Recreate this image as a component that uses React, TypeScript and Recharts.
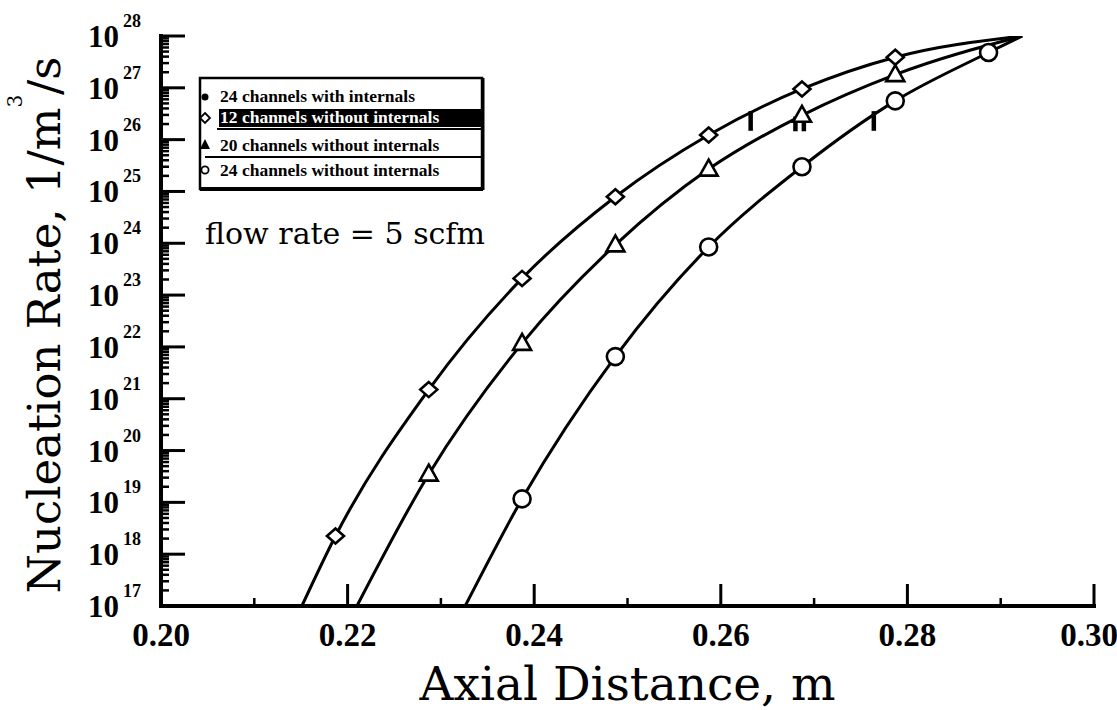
import React from 'react';
import { LineChart, Line, XAxis, YAxis, ReferenceLine } from 'recharts';

const W = 1117;
const H = 710;

// ---- axes ----
const xTicks = [0.2, 0.21, 0.22, 0.23, 0.24, 0.25, 0.26, 0.27, 0.28, 0.29, 0.3];
const xMajorLabels = ['0.20', '0.22', '0.24', '0.26', '0.28', '0.30'];
const yDecades = [17, 18, 19, 20, 21, 22, 23, 24, 25, 26, 27, 28];
const yMinorMultipliers = [2, 3, 4, 5, 6, 7, 8, 9];
const yTicks: number[] = [];
yDecades.forEach((d, i) => {
  yTicks.push(Number(`1e${d}`));
  if (i < yDecades.length - 1) yMinorMultipliers.forEach((m) => yTicks.push(Number(`${m}e${d}`)));
});

// ---- series ----
const diamondX = [0.2187, 0.2287, 0.2387, 0.2487, 0.2587, 0.2687, 0.2787];
const diamondY = [2.24e18, 1.5e21, 2.1e23, 7.9e24, 1.23e26, 9.5e26, 3.9e27];
const triangleX = [0.2287, 0.2387, 0.2487, 0.2587, 0.2687, 0.2787];
const triangleY = [3.5e19, 1.17e22, 9.3e23, 2.7e25, 2.95e26, 1.8e27];
const circleX = [0.2387, 0.2487, 0.2587, 0.2687, 0.2787, 0.2887];
const circleY = [1.17e19, 6.5e21, 8.5e23, 3.0e25, 5.6e26, 4.8e27];

// where each drawn curve meets the bottom frame (at 1e17) and the top frame (at 1e28)
const curveStartX = { diamond: 0.2151, triangle: 0.221, circle: 0.2326 };
const curveEndX = 0.2923;
const yMin = 1e17;
const yMax = 1e28;

// small vertical bars drawn under the curves
const barX = [0.2632, 0.268, 0.2689, 0.2764];
const barLow = [1.48e26, 1.45e26, 1.45e26, 1.48e26];
const barHigh = [3.55e26, 2.8e26, 2.8e26, 3.55e26];

// legend
const legendLabels = [
  '24 channels with internals',
  '12 channels without internals',
  '20 channels without internals',
  '24 channels without internals',
];

const build = (xs: number[], ys: number[], start: number) => [
  { x: start, y: yMin, m: false },
  ...xs.map((x, i) => ({ x, y: ys[i], m: true })),
  { x: curveEndX, y: yMax, m: false },
];

const diamondData = build(diamondX, diamondY, curveStartX.diamond);
const triangleData = build(triangleX, triangleY, curveStartX.triangle);
const circleData = build(circleX, circleY, curveStartX.circle);

const SERIF = "'Liberation Serif', 'Times New Roman', serif";
const WIDE_SERIF = "'DejaVu Serif', serif";

const diamondDot = (p: any) => {
  const { cx, cy, index, payload } = p;
  if (!payload || !payload.m || cx == null) return <g key={`dd${index}`} />;
  return (
    <path
      key={`dd${index}`}
      d={`M${cx},${cy - 7.5} L${cx + 8.5},${cy} L${cx},${cy + 7.5} L${cx - 8.5},${cy} Z`}
      fill="#fff"
      stroke="#000"
      strokeWidth={2.6}
    />
  );
};
const triangleDot = (p: any) => {
  const { cx, cy, index, payload } = p;
  if (!payload || !payload.m || cx == null) return <g key={`td${index}`} />;
  return (
    <path
      key={`td${index}`}
      d={`M${cx},${cy - 9.5} L${cx + 9},${cy + 6.5} L${cx - 9},${cy + 6.5} Z`}
      fill="#fff"
      stroke="#000"
      strokeWidth={2.6}
    />
  );
};
const circleDot = (p: any) => {
  const { cx, cy, index, payload } = p;
  if (!payload || !payload.m || cx == null) return <g key={`cd${index}`} />;
  return <circle key={`cd${index}`} cx={cx} cy={cy} r={8.5} fill="#fff" stroke="#000" strokeWidth={2.6} />;
};

const isMajorY = (v: number) => {
  const e = Math.log10(v);
  return Math.abs(e - Math.round(e)) < 1e-6;
};

const LeftTick = (p: any) => {
  const { x, y, payload } = p;
  const v = payload.value;
  const major = isMajorY(v);
  const e = Math.round(Math.log10(v));
  return (
    <g>
      <line x1={x} x2={x + (major ? 24 : 8)} y1={y} y2={y} stroke="#000" strokeWidth={major ? 3 : 2.5} />
      {major && (
        <text x={x - 42} y={y + 11} textAnchor="end" fontFamily={SERIF} fontWeight="bold" fontSize={31} fill="#000">
          10
        </text>
      )}
      {major && (
        <text x={x - 38} y={y - 9} textAnchor="start" fontFamily={SERIF} fontWeight="bold" fontSize={18} fill="#000">
          {e}
        </text>
      )}
    </g>
  );
};

const RightTick = (p: any) => {
  const { x, y, payload } = p;
  const major = isMajorY(payload.value);
  return <line x1={x} x2={x - (major ? 24 : 8)} y1={y} y2={y} stroke="#000" strokeWidth={major ? 3 : 2.5} />;
};

const BottomTick = (p: any) => {
  const { x, y, payload } = p;
  const i = Math.round(payload.value * 100);
  const major = i % 2 === 0;
  const k = (i - 20) / 2;
  const label = major ? xMajorLabels[k] : '';
  const last = major && k === xMajorLabels.length - 1;
  return (
    <g>
      <line x1={x} x2={x} y1={y} y2={y - (major ? 22 : 8)} stroke="#000" strokeWidth={major ? 3 : 2.5} />
      {major && (
        <text
          x={last ? x - 5 : x}
          y={y + 40}
          textAnchor="middle"
          fontFamily={SERIF}
          fontWeight="bold"
          fontSize={33}
          fill="#000"
        >
          {label}
        </text>
      )}
    </g>
  );
};

const TopTick = (p: any) => {
  const { x, y, payload } = p;
  const i = Math.round(payload.value * 100);
  const major = i % 2 === 0;
  return <line x1={x} x2={x} y1={y} y2={y + (major ? 24 : 8)} stroke="#000" strokeWidth={major ? 3 : 2.5} />;
};

const frameLine = { stroke: '#000', strokeWidth: 4, strokeLinecap: 'square' as const };

export default function App() {
  return (
    <div style={{ position: 'absolute', left: 0, top: 0, width: W, height: H, background: '#fff' }}>
      <LineChart width={W} height={H} margin={{ top: 36, right: 23, bottom: 4, left: 61 }}>
        <XAxis
          xAxisId="b"
          dataKey="x"
          type="number"
          domain={[0.2, 0.3]}
          allowDataOverflow
          ticks={xTicks}
          interval={0}
          tickSize={0}
          tickMargin={0}
          tickLine={false}
          tick={<BottomTick />}
          axisLine={frameLine}
          height={100}
          label={{
            value: 'Axial Distance, m',
            position: 'insideBottom',
            offset: 6,
            fontFamily: WIDE_SERIF,
            fontSize: 47,
            fill: '#000',
          }}
        />
        <XAxis
          xAxisId="t"
          orientation="top"
          type="number"
          domain={[0.2, 0.3]}
          allowDataOverflow
          ticks={xTicks}
          interval={0}
          tickSize={0}
          tickMargin={0}
          tickLine={false}
          tick={<TopTick />}
          axisLine={frameLine}
          height={0}
        />
        <YAxis
          yAxisId="l"
          type="number"
          scale="log"
          domain={[yMin, yMax]}
          allowDataOverflow
          ticks={yTicks}
          interval={0}
          tickSize={0}
          tickMargin={0}
          tickLine={false}
          tick={<LeftTick />}
          axisLine={frameLine}
          width={100}
        />
        <YAxis
          yAxisId="r"
          orientation="right"
          type="number"
          scale="log"
          domain={[yMin, yMax]}
          allowDataOverflow
          ticks={yTicks}
          interval={0}
          tickSize={0}
          tickMargin={0}
          tickLine={false}
          tick={<RightTick />}
          axisLine={frameLine}
          width={0}
        />
        {barX.map((bx, i) => (
          <ReferenceLine
            key={`bar${i}`}
            xAxisId="b"
            yAxisId="l"
            segment={[
              { x: bx, y: barLow[i] },
              { x: bx, y: barHigh[i] },
            ]}
            stroke="#000"
            strokeWidth={4.5}
          />
        ))}
        <Line
          xAxisId="b"
          yAxisId="l"
          data={diamondData}
          dataKey="y"
          type="monotone"
          stroke="#000"
          strokeWidth={3}
          dot={diamondDot}
          activeDot={false}
          isAnimationActive={false}
        />
        <Line
          xAxisId="b"
          yAxisId="l"
          data={triangleData}
          dataKey="y"
          type="monotone"
          stroke="#000"
          strokeWidth={3}
          dot={triangleDot}
          activeDot={false}
          isAnimationActive={false}
        />
        <Line
          xAxisId="b"
          yAxisId="l"
          data={circleData}
          dataKey="y"
          type="monotone"
          stroke="#000"
          strokeWidth={3}
          dot={circleDot}
          activeDot={false}
          isAnimationActive={false}
        />
      </LineChart>
      <svg width={W} height={H} style={{ position: 'absolute', left: 0, top: 0, pointerEvents: 'none' }}>
        {/* y axis title */}
        <text
          transform="translate(60,325) rotate(-90)"
          textAnchor="middle"
          fontFamily={WIDE_SERIF}
          fontSize={45}
          fill="#000"
        >
          Nucleation Rate, 1/m
          <tspan fontSize={20} dy={-38}>3</tspan>
          <tspan dy={38}>/s</tspan>
        </text>
        {/* annotation */}
        <text x={205} y={244} fontFamily={WIDE_SERIF} fontSize={30} fill="#000">
          flow rate = 5 scfm
        </text>
        {/* legend */}
        <g>
          <rect x={200} y={78} width={282} height={111} fill="#fff" stroke="#000" strokeWidth={2.5} />
          <line x1={200} x2={483} y1={189} y2={189} stroke="#000" strokeWidth={4} />
          <line x1={483} x2={483} y1={78} y2={190} stroke="#000" strokeWidth={3} />
          <rect x={219} y={109} width={263} height={18} fill="#000" />
          <line x1={217} x2={482} y1={129} y2={129} stroke="#000" strokeWidth={2} />
          <line x1={205} x2={482} y1={157} y2={157} stroke="#000" strokeWidth={2} />
          <circle cx={205} cy={97} r={3.5} fill="#000" />
          <path d="M205,113 L210,118 L205,123 L200,118 Z" fill="#fff" stroke="#000" strokeWidth={1.8} />
          <path d="M205,139 L210,149 L200,149 Z" fill="#000" />
          <circle cx={205} cy={170} r={3.6} fill="#fff" stroke="#000" strokeWidth={1.8} />
          {legendLabels.map((t, i) => (
            <text
              key={t}
              x={220}
              y={[102, 123, 151, 176][i]}
              fontFamily={SERIF}
              fontWeight="bold"
              fontSize={17.5}
              fill={i === 1 ? '#fff' : '#000'}
            >
              {t}
            </text>
          ))}
        </g>
      </svg>
    </div>
  );
}
